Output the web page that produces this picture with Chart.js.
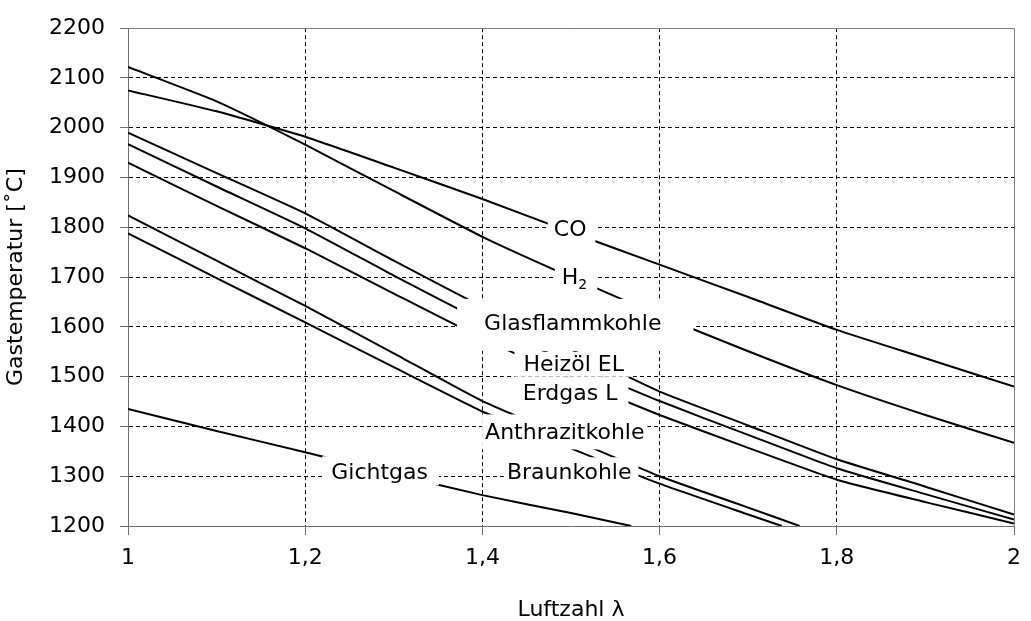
<!DOCTYPE html>
<html>
<head>
<meta charset="utf-8">
<script src="https://cdn.jsdelivr.net/npm/chart.js@4"></script>
<style>
  html, body { margin: 0; padding: 0; background: #fff; }
  canvas { display: block; }
</style>
</head>
<body>
<canvas id="chart" width="1031" height="621"></canvas>
<script>
// Luftzahl lambda (x) und Gastemperatur in °C (y)
const lambdaFull = [1.0, 1.1, 1.2, 1.3, 1.4, 1.5, 1.6, 1.7, 1.8, 1.9, 2.0];
const tempCO    = [2075, 2033, 1982, 1920, 1857, 1790, 1725, 1660, 1594, 1537, 1480];
const tempH2    = [2122, 2053, 1966, 1873, 1781, 1700, 1623, 1551, 1483, 1423, 1367];
const tempGlas  = [1990, 1909, 1828, 1733, 1640, 1555, 1470, 1402, 1334, 1279, 1223];
const tempHeiz  = [1967, 1882, 1798, 1703, 1611, 1526, 1451, 1383, 1316, 1264, 1213];
const tempErdgas = [1930, 1843, 1758, 1667, 1577, 1496, 1423, 1357, 1293, 1248, 1205];

const lambdaAnth = [1.0, 1.1, 1.2, 1.3, 1.4, 1.5, 1.6, 1.7, 1.758];
const tempAnth   = [1824, 1733, 1642, 1547, 1451, 1375, 1300, 1237, 1200];
const lambdaBraun = [1.0, 1.1, 1.2, 1.3, 1.4, 1.5, 1.6, 1.7, 1.738];
const tempBraun   = [1788, 1698, 1609, 1519, 1430, 1356, 1285, 1223, 1200];
const lambdaGicht = [1.0, 1.1, 1.2, 1.3, 1.4, 1.5, 1.568];
const tempGicht   = [1435, 1391, 1348, 1304, 1262, 1226, 1200];

// Beschriftungen im Diagramm (Lage in Datenkoordinaten)
const labelNames  = ['CO', 'H2', 'Glasflammkohle', 'Heizöl EL', 'Erdgas L', 'Anthrazitkohle', 'Braunkohle', 'Gichtgas'];
const labelLambda = [1.499, 1.504, 1.502, 1.503, 1.499, 1.493, 1.498, 1.284];
const labelTemp   = [1798, 1702, 1610, 1528, 1469, 1390, 1310, 1310];
// weisser Hintergrund um den Text: links, rechts, oben, unten (px)
const labelPad = [
    [6, 9, 7, 7],
    [7, 10, 6, 8],
    [27, 32, 15, 21],
    [9, 7, 3, 6],
    [9, 11, 7, 10],
    [3, 3, 9, 10],
    [3, 7, 6, 10],
    [9, 11, 7, 6]
];

const FONT = 'DejaVu Sans';

function pts(xs, ys) {
    return xs.map((x, i) => ({ x: x, y: ys[i] }));
}

function line(label, data) {
    return {
        label: label,
        data: data,
        borderColor: '#000',
        borderWidth: 2,
        pointRadius: 0,
        fill: false,
        tension: 0.15
    };
}

function labelParts(name) {
    if (name === 'H2') {
        return [{ t: 'H', s: 22, dy: 0 }, { t: '2', s: 14, dy: 5 }];
    }
    return [{ t: name, s: 22, dy: 0 }];
}

const inlineLabels = {
    id: 'inlineLabels',
    afterDatasetsDraw(chart) {
        const ctx = chart.ctx;
        const xs = chart.scales.x, ys = chart.scales.y;
        ctx.save();
        ctx.font = '22px "' + FONT + '"';
        const cap = ctx.measureText('H').actualBoundingBoxAscent;

        const items = labelNames.map((name, i) => {
            const parts = labelParts(name);
            let w = 0;
            parts.forEach(p => {
                ctx.font = p.s + 'px "' + FONT + '"';
                p.w = ctx.measureText(p.t).width;
                w += p.w;
            });
            const cx = xs.getPixelForValue(labelLambda[i]);
            const cy = ys.getPixelForValue(labelTemp[i]);
            const pad = labelPad[i];
            return {
                parts: parts,
                x0: cx - w / 2,
                base: cy + cap / 2,
                box: [cx - w / 2 - pad[0], cy - cap / 2 - pad[2], w + pad[0] + pad[1], cap + pad[2] + pad[3]]
            };
        });

        ctx.fillStyle = '#fff';
        items.forEach(it => ctx.fillRect(it.box[0], it.box[1], it.box[2], it.box[3]));

        ctx.fillStyle = '#000';
        ctx.textAlign = 'left';
        ctx.textBaseline = 'alphabetic';
        items.forEach(it => {
            let x = it.x0;
            it.parts.forEach(p => {
                ctx.font = p.s + 'px "' + FONT + '"';
                ctx.fillText(p.t, x, it.base + p.dy);
                x += p.w;
            });
        });
        ctx.restore();
    }
};

// oberer und rechter Rahmen der Zeichenflaeche
const frame = {
    id: 'frame',
    beforeDatasetsDraw(chart) {
        const a = chart.chartArea;
        const ctx = chart.ctx;
        const t = Math.round(a.top) + 0.5, r = Math.round(a.right) + 0.5;
        ctx.save();
        ctx.strokeStyle = '#808080';
        ctx.lineWidth = 1;
        ctx.beginPath();
        ctx.moveTo(a.left, t);
        ctx.lineTo(r, t);
        ctx.lineTo(r, a.bottom);
        ctx.stroke();
        ctx.restore();
    }
};

function near(a, b) { return Math.abs(a - b) < 1e-6; }

new Chart(document.getElementById('chart'), {
    type: 'line',
    data: {
        datasets: [
            line('CO', pts(lambdaFull, tempCO)),
            line('H2', pts(lambdaFull, tempH2)),
            line('Glasflammkohle', pts(lambdaFull, tempGlas)),
            line('Heizöl EL', pts(lambdaFull, tempHeiz)),
            line('Erdgas L', pts(lambdaFull, tempErdgas)),
            line('Anthrazitkohle', pts(lambdaAnth, tempAnth)),
            line('Braunkohle', pts(lambdaBraun, tempBraun)),
            line('Gichtgas', pts(lambdaGicht, tempGicht))
        ]
    },
    options: {
        responsive: false,
        animation: false,
        devicePixelRatio: 1,
        layout: { padding: { left: 0, right: 11, top: 23, bottom: 0 } },
        plugins: {
            legend: { display: false },
            tooltip: { enabled: false }
        },
        scales: {
            x: {
                type: 'linear',
                min: 1,
                max: 2,
                afterFit: s => { s.height = 95; },
                ticks: {
                    stepSize: 0.2,
                    autoSkip: false,
                    maxRotation: 0,
                    padding: 10,
                    color: '#000',
                    font: { family: FONT, size: 22 },
                    callback: v => String(+v.toFixed(1)).replace('.', ',')
                },
                grid: {
                    color: c => (c.tick && (near(c.tick.value, 1) || near(c.tick.value, 2))) ? 'rgba(0,0,0,0)' : '#000',
                    lineWidth: 1,
                    tickLength: 9,
                    tickColor: '#707070',
                    tickWidth: 1
                },
                border: { color: '#707070', width: 1, dash: [4, 3] },
                title: {
                    display: true,
                    text: 'Luftzahl λ',
                    color: '#000',
                    font: { family: FONT, size: 22, lineHeight: 1 },
                    padding: { top: 0, bottom: 0 }
                }
            },
            y: {
                min: 1200,
                max: 2200,
                afterFit: s => { s.width = 128; },
                ticks: {
                    stepSize: 100,
                    padding: 15,
                    color: '#000',
                    font: { family: FONT, size: 22 },
                    callback: v => String(v)
                },
                grid: {
                    color: c => (c.tick && (c.tick.value === 1200 || c.tick.value === 2200)) ? 'rgba(0,0,0,0)' : '#000',
                    lineWidth: 1,
                    tickLength: 8,
                    tickColor: '#707070',
                    tickWidth: 1
                },
                border: { color: '#707070', width: 1, dash: [4, 3] },
                title: {
                    display: true,
                    text: 'Gastemperatur [˚C]',
                    color: '#000',
                    font: { family: FONT, size: 22, lineHeight: 1 },
                    padding: { top: 5, bottom: 0 }
                }
            }
        }
    },
    plugins: [frame, inlineLabels]
});
</script>
</body>
</html>
